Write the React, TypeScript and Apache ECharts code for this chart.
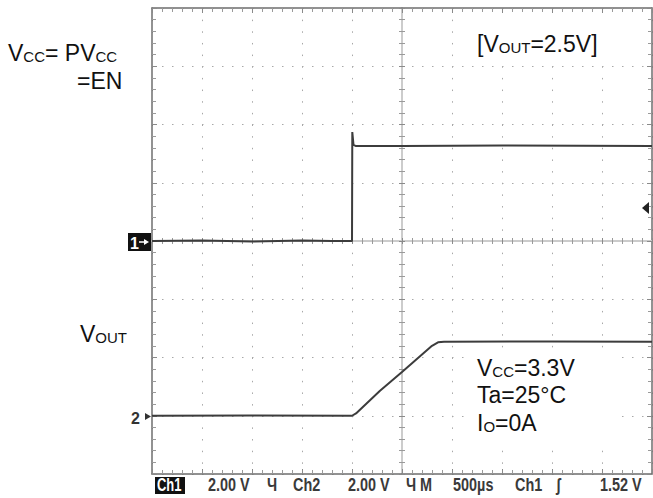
import React, { useEffect, useRef } from "react";
import * as echarts from "echarts";

// ---- scope settings ----
const TIME_US_MIN = -2500;
const TIME_US_MAX = 2500;
const TIME_US_PER_DIV = 500;
const VOLTS_PER_DIV = 2;
const DIV_MIN = -4;
const DIV_MAX = 4;

// ---- channel 1 (VCC = PVCC = EN) ----
const ch1TimeUs = [-2500, -2000, -1500, -1000, -700, -500, -497, -485, -460, 0, 1000, 2500];
const ch1Volts = [0, 0.02, -0.02, 0.02, 0, 0, 3.74, 3.3, 3.26, 3.26, 3.28, 3.26];
const ch1OffsetDiv = 0;

// ---- channel 2 (VOUT) ----
const ch2TimeUs = [-2500, -1500, -500, -460, -220, 0, 300, 360, 420, 1500, 2500];
const ch2Volts = [0, 0.01, 0, 0.08, 0.86, 1.5, 2.4, 2.52, 2.54, 2.55, 2.54];
const ch2OffsetDiv = -3;

// ---- status bar ----
const statusLabels = ["2.00 V", "Ч", "Ch2", "2.00 V", "Ч", "M", "500µs", "Ch1", "ʃ", "1.52 V"];
const statusX = [208, 267, 293, 348, 406, 420, 453, 515, 556, 600];

const FONT = "'Liberation Sans', Arial, sans-serif";

function toSeries(t: number[], v: number[], offset: number) {
  return t.map((x, i) => [x, v[i] / VOLTS_PER_DIV + offset]);
}

function xAxisDef(position: "top" | "bottom", onZero: boolean, split: boolean, center: boolean) {
  return {
    type: "value",
    min: TIME_US_MIN,
    max: TIME_US_MAX,
    interval: TIME_US_PER_DIV,
    position,
    axisLine: { show: true, onZero, lineStyle: { color: center ? "#c8c8c8" : "#6e6e6e", width: 1.5 } },
    axisTick: { show: true, inside: true, length: center ? 3 : 5, lineStyle: { color: "#8a8a8a" } },
    minorTick: { show: true, splitNumber: 5, length: center ? 3 : 4, lineStyle: { color: "#9a9a9a" } },
    axisLabel: { show: false },
    splitLine: { show: split, lineStyle: { color: "#a8a8a8", width: 1, type: [1.5, 10.15] } },
    minorSplitLine: { show: false },
  };
}

function yAxisDef(position: "left" | "right", onZero: boolean, split: boolean, center: boolean) {
  return {
    type: "value",
    min: DIV_MIN,
    max: DIV_MAX,
    interval: 1,
    position,
    axisLine: { show: true, onZero, lineStyle: { color: center ? "#c8c8c8" : "#6e6e6e", width: 1.5 } },
    axisTick: { show: true, inside: true, length: center ? 3 : 5, lineStyle: { color: "#8a8a8a" } },
    minorTick: { show: true, splitNumber: 5, length: center ? 3 : 4, lineStyle: { color: "#9a9a9a" } },
    axisLabel: { show: false },
    splitLine: { show: split, lineStyle: { color: "#a8a8a8", width: 1, type: [1.5, 8.5] } },
    minorSplitLine: { show: false },
  };
}

function richText(x: number, y: number, text: string, big = 23, small = 15) {
  return {
    type: "text",
    x,
    y,
    z: 100,
    style: {
      text,
      align: "left",
      verticalAlign: "bottom",
      rich: {
        b: { fontSize: big, fontFamily: FONT, fill: "#111", verticalAlign: "bottom" },
        s: { fontSize: small, fontFamily: FONT, fill: "#111", verticalAlign: "bottom" },
      },
    },
  };
}

export default function App() {
  const ref = useRef<HTMLDivElement>(null);

  useEffect(() => {
    if (!ref.current) return;
    const chart = echarts.init(ref.current, null, { renderer: "svg" });

    const statusGraphics: any[] = statusLabels.map((s, i) => ({
      type: "text",
      x: statusX[i],
      y: 494,
      scaleX: 0.76,
      z: 100,
      style: {
        text: s,
        fontSize: 19,
        fontWeight: "bold",
        fontFamily: FONT,
        fill: "#3a3a3a",
        align: "left",
        verticalAlign: "bottom",
      },
    }));

    const option: any = {
      animation: false,
      backgroundColor: "#ffffff",
      grid: { left: 152, top: 8, width: 500, height: 466, show: false },
      xAxis: [
        xAxisDef("bottom", false, true, false),
        xAxisDef("top", false, false, false),
        xAxisDef("bottom", true, false, true),
        xAxisDef("top", true, false, true),
      ],
      yAxis: [
        yAxisDef("left", false, true, false),
        yAxisDef("right", false, false, false),
        yAxisDef("left", true, false, true),
        yAxisDef("right", true, false, true),
      ],
      series: [
        {
          name: "VCC",
          type: "line",
          xAxisIndex: 0,
          yAxisIndex: 0,
          data: toSeries(ch1TimeUs, ch1Volts, ch1OffsetDiv),
          showSymbol: false,
          lineStyle: { color: "#3c3c3c", width: 2 },
          z: 10,
        },
        {
          name: "VOUT",
          type: "line",
          xAxisIndex: 0,
          yAxisIndex: 0,
          data: toSeries(ch2TimeUs, ch2Volts, ch2OffsetDiv),
          showSymbol: false,
          lineStyle: { color: "#3c3c3c", width: 2 },
          z: 10,
        },
      ],
      graphic: [
        // white panels behind annotations
        { type: "rect", z: 50, shape: { x: 466, y: 16, width: 150, height: 46 }, style: { fill: "#fff" } },
        { type: "rect", z: 50, shape: { x: 470, y: 350, width: 145, height: 94 }, style: { fill: "#fff" } },
        // annotations
        richText(8, 64, "{b|V}{s|CC}{b|= PV}{s|CC}"),
        richText(77, 92, "{b|=EN}"),
        richText(477, 55, "{b|[V}{s|OUT}{b|=2.5V]}"),
        richText(80, 345, "{b|V}{s|OUT}"),
        richText(477, 379, "{b|V}{s|CC}{b|=3.3V}"),
        richText(477, 406, "{b|Ta=25°C}"),
        richText(477, 434, "{b|I}{s|O}{b|=0A}"),
        // channel ground markers
        { type: "rect", z: 90, shape: { x: 128, y: 233, width: 23, height: 18 }, style: { fill: "#111" } },
        {
          type: "text", x: 130, y: 243, z: 100,
          style: { text: "1", fontSize: 16, fontWeight: "bold", fontFamily: FONT, fill: "#fff", verticalAlign: "middle" },
        },
        { type: "polygon", z: 100, shape: { points: [[144, 239], [149, 242], [144, 245]] }, style: { fill: "#fff" } },
        { type: "line", z: 100, shape: { x1: 139, y1: 242, x2: 145, y2: 242 }, style: { stroke: "#fff", lineWidth: 1.5 } },
        {
          type: "text", x: 131, y: 418, z: 100,
          style: { text: "2", fontSize: 16, fontWeight: "bold", fontFamily: FONT, fill: "#333", verticalAlign: "middle" },
        },
        { type: "polygon", z: 100, shape: { points: [[145, 413], [151, 416.5], [145, 420]] }, style: { fill: "#333" } },
        // trigger level marker
        { type: "polygon", z: 100, shape: { points: [[642, 208], [649, 202], [649, 214]] }, style: { fill: "#222" } },
        // status bar
        { type: "rect", z: 90, shape: { x: 155, y: 477, width: 30, height: 17 }, style: { fill: "#111" } },
        {
          type: "text", x: 157, y: 494, scaleX: 0.72, z: 100,
          style: { text: "Ch1", fontSize: 18, fontWeight: "bold", fontFamily: FONT, fill: "#fff", verticalAlign: "bottom" },
        },
        ...statusGraphics,
      ],
    };

    chart.setOption(option);
    return () => chart.dispose();
  }, []);

  return (
    <div
      ref={ref}
      style={{ position: "fixed", left: 0, top: 0, width: 653, height: 498, background: "#fff" }}
    />
  );
}
